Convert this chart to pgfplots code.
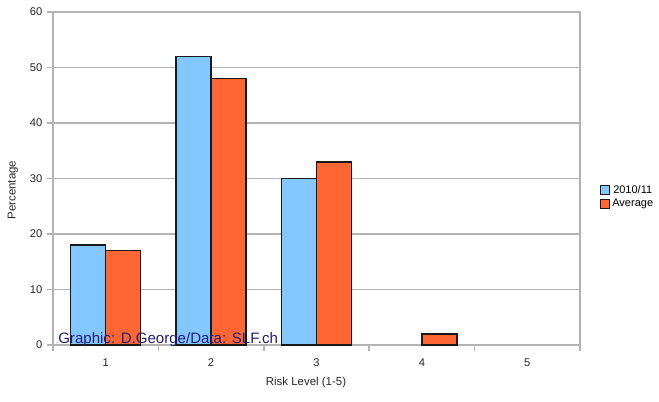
\documentclass[border=0pt]{standalone}
\usepackage{pgfplots}
\pgfplotsset{compat=1.18}
\usepackage{fontspec}
\setmainfont{Liberation Sans}
\definecolor{barblue}{RGB}{130,200,255}
\definecolor{barorange}{RGB}{255,102,51}
\definecolor{gridgray}{RGB}{179,179,179}
\definecolor{navytext}{RGB}{30,30,120}
\begin{document}
\begin{tikzpicture}
\useasboundingbox (-39.75pt,-42pt) rectangle (454.5pt,258.75pt);
\begin{axis}[
  at={(0pt,0pt)}, anchor=south west,
  scale only axis, width=395.25pt, height=249.75pt,
  xmin=0.5, xmax=5.5, ymin=0, ymax=60,
  ytick={0,10,...,60},
  xtick={1,2,3,4,5},
  minor xtick={0.5,1.5,...,5.5},
  xtick pos=bottom, ytick pos=left,
  xtick style={draw=none},
  minor x tick style={draw=gridgray, line width=1.1pt},
  ytick style={draw=gridgray, line width=1.1pt},
  tick align=outside,
  major tick length=4.5pt, minor tick length=4.5pt,
  ymajorgrids, grid style={gridgray, line width=1.1pt},
  axis line style={gridgray, line width=1.1pt},
  ybar=0pt, bar width=26.25pt,
  tick label style={font=\fontsize{8.4pt}{10pt}\selectfont, text=black!85},
  label style={font=\fontsize{8.6pt}{10pt}\selectfont, text=black!85},
  xlabel={Risk Level (1-5)},
  ylabel={Percentage},
  xlabel style={at={(axis description cs:0.48,0)}, anchor=center, yshift=-28pt},
  ylabel style={at={(axis description cs:-0.076,0.465)}, anchor=center},
  /pgf/number format/assume math mode=true,
  legend style={at={(1.03,0.445)}, anchor=west, draw=none, fill=none,
    font=\fontsize{8.25pt}{10pt}\selectfont, row sep=-1pt,
    /tikz/every even column/.append style={column sep=2pt}},
  legend image code/.code={\draw[#1, line width=0.8pt] (0pt,-3.2pt) rectangle (6.4pt,3.2pt);},
  xticklabel style={yshift=-2pt},
  clip=false,
]
\addplot[fill=barblue, draw=black!90, line width=1.1pt] coordinates {(1,18) (2,52) (3,30)};
\addplot[fill=barorange, draw=black!90, line width=1.1pt] coordinates {(1,17) (2,48) (3,33) (4,2)};
\legend{2010/11, Average}
\node[anchor=base west, text=navytext, font=\fontsize{11.3pt}{13pt}\selectfont, inner sep=0pt]
  at (axis description cs:0.0095,0.006) {Graphic: D.George/Data: SLF.ch};
\end{axis}
\end{tikzpicture}
\end{document}
